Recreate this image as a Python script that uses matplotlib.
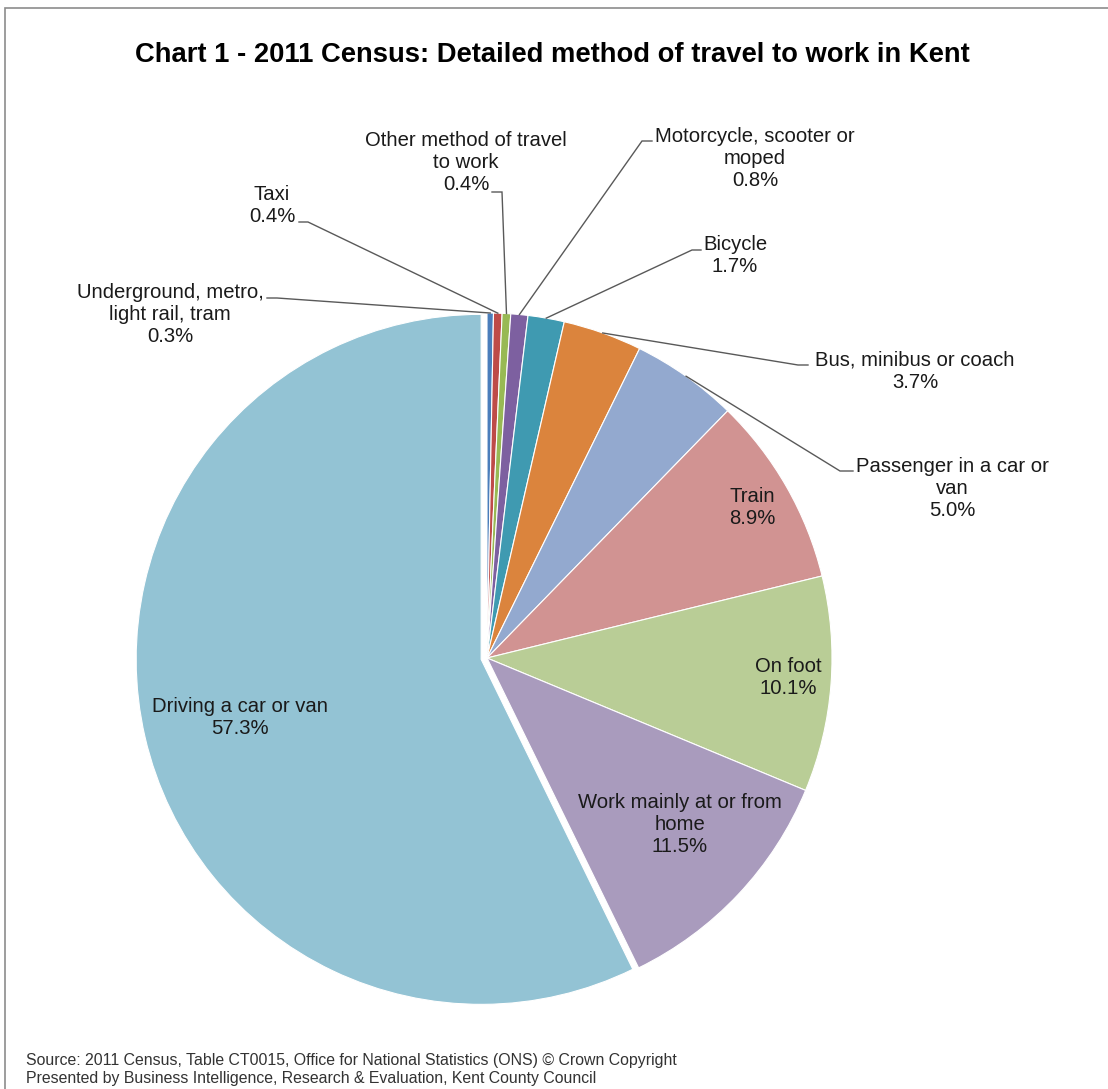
import numpy as np
import matplotlib.pyplot as plt
from matplotlib.patches import Rectangle

plt.rcParams['font.family'] = ['Liberation Sans', 'DejaVu Sans']

# =========================
# DADOS
# =========================
categorias = [
    "Underground, metro,\nlight rail, tram",
    "Taxi",
    "Other method of travel\nto work",
    "Motorcycle, scooter or\nmoped",
    "Bicycle",
    "Bus, minibus or coach",
    "Passenger in a car or\nvan",
    "Train",
    "On foot",
    "Work mainly at or from\nhome",
    "Driving a car or van",
]
percentuais = [0.3, 0.4, 0.4, 0.8, 1.7, 3.7, 5.0, 8.9, 10.1, 11.5, 57.3]
cores = ["#4A7EBB", "#BE4B48", "#98B954", "#7D60A0", "#3F9AB1", "#DB843D",
         "#93A9CF", "#D19392", "#B9CD96", "#A99BBD", "#93C3D4"]

# =========================
# LAYOUT (pixels, y para baixo)
# =========================
W, H = 1108, 1089
CX, CY, R = 487, 658, 345
explodir = [0, 0, 0, 0, 0, 0, 0, 0, 0, 0, 6]   # em pixels

def fy(y):
    return H - y

# posicao do texto, inicio e fim do "toquinho" da linha guia (None = dentro)
pos_texto = [(170, 315), (272, 205), (466, 162), (755, 159), (735, 256),
             (915, 371), (952, 489), (752, 507), (788, 677), (680, 825),
             (240, 717)]
guias = [((267, 298), (277, 298)),
         ((299, 222), (308, 222)),
         ((492, 192), (502, 192)),
         ((652, 141), (642, 141)),
         ((701, 250), (692, 250)),
         ((808, 365), (798, 365)),
         ((853, 471), (840, 471)),
         None, None, None, None]

# =========================
# GRAFICO
# =========================
fig = plt.figure(figsize=(W / 100, H / 100), dpi=100)
ax = fig.add_axes([0, 0, 1, 1])
ax.axis('off')

fatias, _ = ax.pie(percentuais, colors=cores, explode=explodir,
                   startangle=90, counterclock=False,
                   center=(CX, fy(CY)), radius=R,
                   wedgeprops=dict(edgecolor='white', linewidth=0.8))
ax.set_aspect('auto')
ax.set_xlim(0, W)
ax.set_ylim(0, H)

for i, (cat, p) in enumerate(zip(categorias, percentuais)):
    tx, ty = pos_texto[i]
    ax.text(tx, fy(ty), f"{cat}\n{p:.1f}%", ha='center', va='center',
            fontsize=14.6, color='#1a1a1a', linespacing=1.2)
    if guias[i] is not None:
        a, b = guias[i]
        w = fatias[i]
        ang = np.deg2rad((w.theta1 + w.theta2) / 2)
        ex = w.center[0] + R * np.cos(ang)
        ey = w.center[1] + R * np.sin(ang)
        ax.plot([a[0], b[0], ex], [fy(a[1]), fy(b[1]), ey],
                color='#595959', lw=1.0, solid_joinstyle='miter')

ax.text(552, fy(55), "Chart 1 - 2011 Census: Detailed method of travel to work in Kent",
        ha='center', va='center', fontsize=19.7, fontweight='bold')

ax.text(26, fy(1065), "Source: 2011 Census, Table CT0015, Office for National Statistics (ONS) \u00a9 Crown Copyright",
        ha='left', va='baseline', fontsize=11.4, color='#333333')
ax.text(26, fy(1083), "Presented by Business Intelligence, Research & Evaluation, Kent County Council",
        ha='left', va='baseline', fontsize=11.4, color='#333333')

# moldura
ax.add_patch(Rectangle((5, -10), W, fy(8) + 10, fill=False,
                       edgecolor='#8c8c8c', lw=1.2, clip_on=False))

fig.savefig("out.png", dpi=100)
